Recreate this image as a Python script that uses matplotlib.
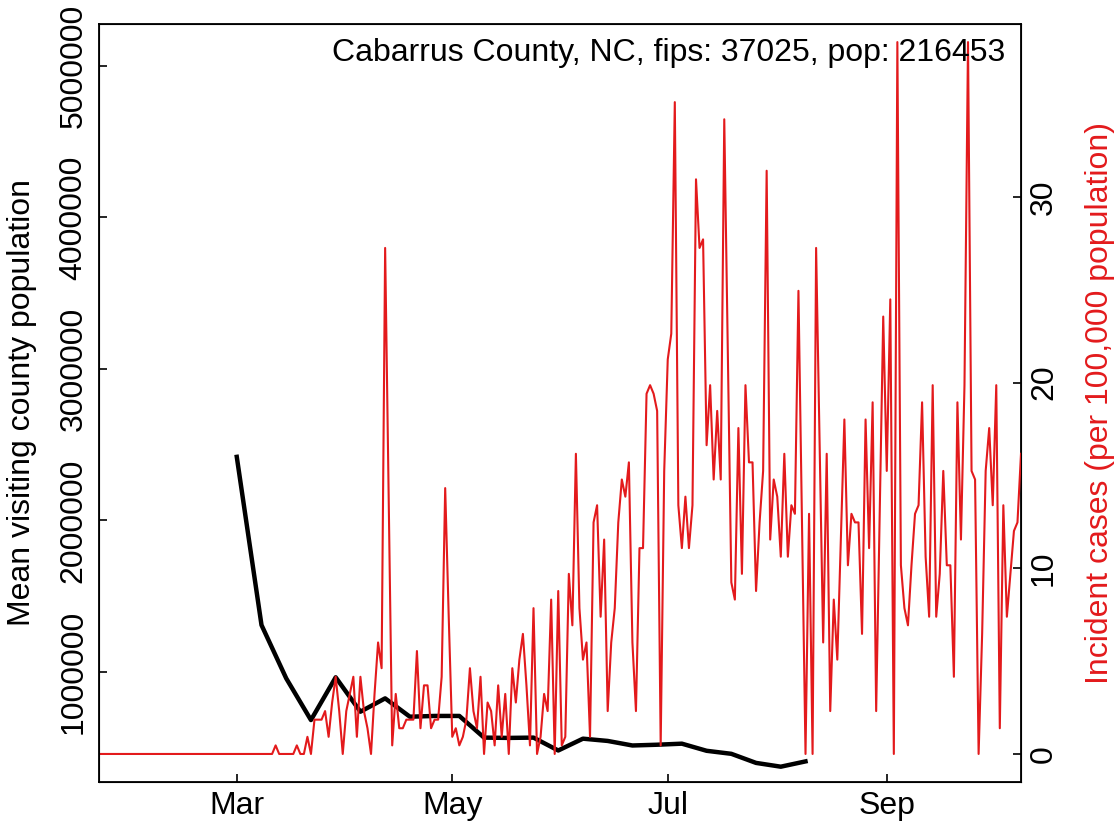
import numpy as np
import matplotlib
matplotlib.use('Agg')
import matplotlib.pyplot as plt

# county info
county_label = 'Cabarrus County, NC, fips: 37025, pop: 216453'
pop = 216453

# daily new cases, starting 2020-01-22
case_start = np.datetime64('2020-01-22')
daily_cases = [0] * 50 + [
    1, 0, 0, 0, 0, 0, 1, 0, 0, 2, 0, 4, 4, 4, 5, 2, 6, 9, 5, 0,          # d50-69
    5, 7, 9, 2, 9, 5, 3, 0, 7, 13, 10, 59, 30, 1, 7, 3, 3, 4, 4, 4,     # d70-89
    12, 3, 8, 8, 3, 4, 4, 9, 31, 16, 2, 3, 1, 2, 4, 10, 5, 3, 9, 0,     # d90-109
    6, 5, 1, 8, 2, 7, 0, 10, 6, 11, 14, 8, 1, 17, 0, 2, 7, 5, 18, 0,    # d110-129
    19, 1, 2, 21, 15, 35, 17, 11, 13, 2, 27, 29, 16, 25, 5, 13, 17, 27, 32, 30,  # d130-149
    34, 13, 5, 24, 24, 42, 43, 42, 40, 1, 33, 46, 49, 76, 29, 24, 30, 24, 29, 67,  # d150-169
    59, 60, 36, 43, 32, 40, 32, 74, 47, 20, 18, 38, 21, 43, 34, 34, 19, 27, 33, 68,  # d170-189
    25, 32, 30, 23, 35, 23, 29, 28, 54, 27, 0, 28, 0, 59, 36, 13, 35, 5, 18, 11,   # d190-209
    25, 39, 22, 28, 27, 27, 14, 39, 24, 41, 5, 28, 51, 33, 53, 0, 83, 22, 17, 15,  # d210-229
    22, 28, 29, 41, 23, 16, 43, 16, 21, 33, 22, 22, 9, 41, 25, 43, 83, 33, 32, 0,  # d230-249
    14, 33, 38, 29, 43, 3, 29, 16, 21, 26, 27, 35,                       # d250-261
]

# weekly mean visiting county population, starting 2020-03-01
visit_start = np.datetime64('2020-03-01')
visiting_pop = [2420000, 1310000, 958000, 683000, 965000, 738000, 826000, 705000,
                710000, 710000, 567000, 565000, 567000, 482000, 560000, 545000,
                515000, 520000, 527000, 480000, 460000, 400000, 375000, 410000]

month_ticks = ['2020-03-01', '2020-05-01', '2020-07-01', '2020-09-01']
month_labels = ['Mar', 'May', 'Jul', 'Sep']
left_ticks = [1000000, 2000000, 3000000, 4000000, 5000000]
right_ticks = [0, 10, 20, 30]

case_dates = case_start + np.arange(len(daily_cases))
incidence = np.array(daily_cases) / pop * 1e5
visit_dates = visit_start + 7 * np.arange(len(visiting_pop))

red = '#E31A1C'
plt.rcParams['font.family'] = ['Liberation Sans', 'DejaVu Sans']
plt.rcParams['font.size'] = 23

W, H = 1119, 831
fig = plt.figure(figsize=(W / 100, H / 100), dpi=100)
ax = fig.add_axes([99 / W, 1 - 782 / H, 922 / W, 758 / H])

ax.plot(visit_dates, visiting_pop, color='black', lw=3.2, zorder=3)
ax.set_ylim(274000, 5277000)
ax.set_yticks(left_ticks)
ax.set_yticklabels([str(v) for v in left_ticks], rotation=90, va='center')
ax.set_xticks(np.array(month_ticks, dtype='datetime64[D]'))
ax.set_xticklabels(month_labels)
ax.tick_params(axis='y', direction='in', length=6, width=1.2, pad=7.4)
ax.tick_params(axis='x', direction='in', length=6, width=1.2, pad=6.5)
for s in ax.spines.values():
    s.set_linewidth(1.3)

ax2 = ax.twinx()
ax2.plot(case_dates, incidence, color=red, lw=1.5)
ax2.set_ylim(-1.51, 39.32)
ax2.set_yticks(right_ticks)
ax2.set_yticklabels([str(v) for v in right_ticks], rotation=90, va='center')
ax2.tick_params(axis='y', direction='in', length=6, width=1.2, pad=5.8)
ax.set_xlim(case_dates[0], case_dates[-1])

fig.text(22 / W, 1 - 403 / H, 'Mean visiting county population',
         rotation=90, ha='center', va='center')
fig.text(1100 / W, 1 - 403 / H, 'Incident cases (per 100,000 population)',
         rotation=90, ha='center', va='center', color=red)
fig.text(1005 / W, 1 - 53 / H, county_label, ha='right', va='center')

fig.savefig('out.png', dpi=100)
